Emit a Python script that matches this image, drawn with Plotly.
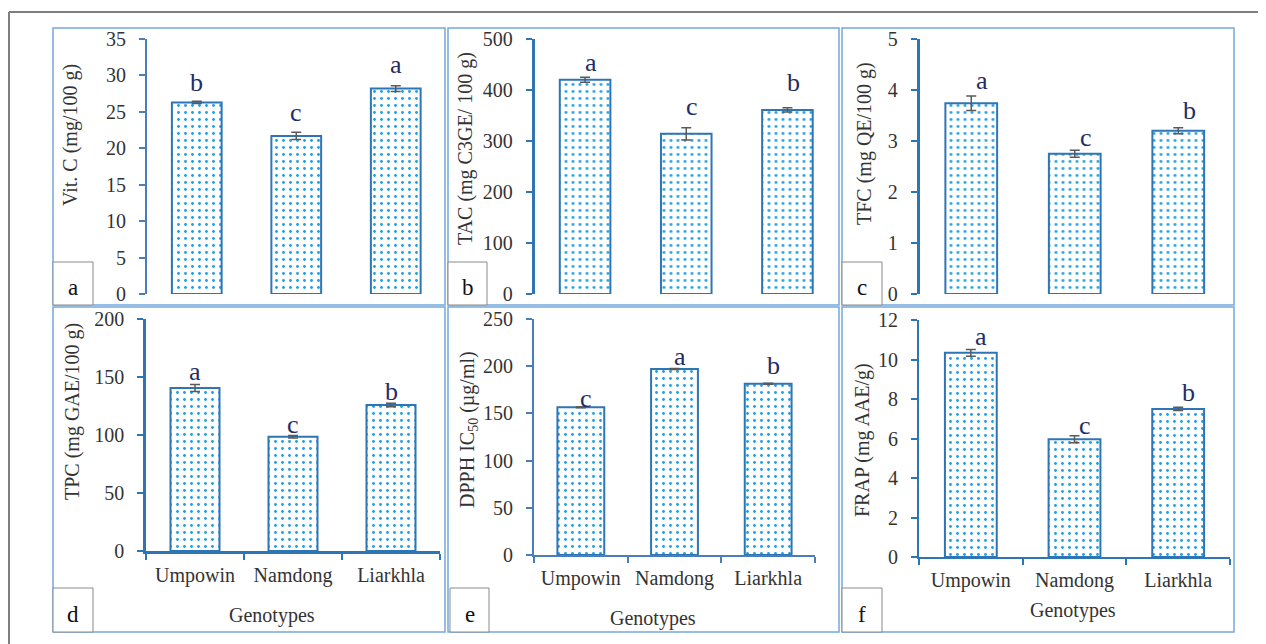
import plotly.graph_objects as go

W, H = 1266, 644
OFF = 8  # page body margin offset of the rendered figure

genotypes = ["Umpowin", "Namdong", "Liarkhla"]

vit_c = [26.3, 21.7, 28.2]
vit_c_err = [0.15, 0.5, 0.4]
vit_c_letters = ["b", "c", "a"]

tac = [420, 314, 361]
tac_err = [5, 12, 4]
tac_letters = ["a", "c", "b"]

tfc = [3.74, 2.75, 3.2]
tfc_err = [0.14, 0.07, 0.06]
tfc_letters = ["a", "c", "b"]

tpc = [140.5, 98.5, 125.9]
tpc_err = [3, 1, 1.5]
tpc_letters = ["a", "c", "b"]

dpph = [156.5, 197, 181.5]
dpph_err = [0.6, 0.5, 0.5]
dpph_letters = ["c", "a", "b"]

frap = [10.34, 5.96, 7.5]
frap_err = [0.17, 0.18, 0.08]
frap_letters = ["a", "c", "b"]

y_titles = ["Vit. C (mg/100 g)", "TAC (mg C3GE/ 100 g)", "TFC (mg QE/100 g)",
            "TPC (mg GAE/100 g)", "DPPH IC<sub>50</sub> (µg/ml)", "FRAP (mg AAE/g)"]
panel_tags = ["a", "b", "c", "d", "e", "f"]
x_title = "Genotypes"

SERIF = "Liberation Serif, Times New Roman, serif"
BLUE = "#2e75b6"
BLUE2 = "#4a7ebb"
DOT = "#1c9fe3"
TXT = "#333333"
NAVY = "#1f2d66"
FS = 20


def px(x):
    return (x - OFF) / W


def py(y):
    return 1 - (y - OFF) / H


panels = [
    dict(vals=vit_c, errs=vit_c_err, letters=vit_c_letters, yr=[0, 35], dt=5,
         box=(53, 28, 445, 305), plot=(147, 39, 445.5, 294), axc=BLUE2, axw=2, cross=True,
         bottom=False, xs=0, ysh=[20, 23, 24], ytl=(71, 135), tag=(53, 262, 93, 305)),
    dict(vals=tac, errs=tac_err, letters=tac_letters, yr=[0, 500], dt=100,
         box=(448, 28, 839, 305), plot=(534.5, 39, 838, 294), axc=BLUE, axw=2.5, cross=True,
         bottom=False, xs=6, ysh=[17, 27, 27], ytl=(465, 149), tag=(448, 262, 487, 305)),
    dict(vals=tfc, errs=tfc_err, letters=tfc_letters, yr=[0, 5], dt=1,
         box=(842, 28, 1234, 305), plot=(919.5, 39, 1230, 294), axc=BLUE, axw=2.5, cross=True,
         bottom=False, xs=11, ysh=[23, 16, 20], ytl=(865, 144), tag=(842, 262, 882, 305)),
    dict(vals=tpc, errs=tpc_err, letters=tpc_letters, yr=[0, 200], dt=50,
         box=(53, 307, 445, 632), plot=(146, 319, 440, 551), axc=BLUE, axw=2.5, cross=True,
         bottom=True, xs=0, ysh=[17, 12, 13], ytl=(72, 412), tag=(53, 588, 93, 632),
         xtl=(272, 615)),
    dict(vals=dpph, errs=dpph_err, letters=dpph_letters, yr=[0, 250], dt=50,
         box=(448, 307, 839, 632), plot=(534, 319, 815, 555), axc=BLUE2, axw=2, cross=False,
         bottom=True, xs=5, ysh=[9, 13, 18], ytl=(468, 430), tag=(450, 588, 489, 632),
         xtl=(653, 618)),
    dict(vals=frap, errs=frap_err, letters=frap_letters, yr=[0, 12], dt=2,
         box=(842, 307, 1234, 632), plot=(919, 320, 1230, 557), axc=BLUE, axw=2, cross=True,
         bottom=True, xs=10, ysh=[16, 14, 16], ytl=(862, 440), tag=(842, 588, 882, 632),
         xtl=(1073, 610)),
]

fig = go.Figure()
shapes = []
annotations = []
layout = {}

for i, p in enumerate(panels):
    k = i + 1
    xa = "x" if k == 1 else f"x{k}"
    ya = "y" if k == 1 else f"y{k}"
    x0, yt, x1, yb = p["plot"]
    fig.add_trace(go.Bar(
        x=genotypes, y=p["vals"], xaxis=xa, yaxis=ya, width=0.5,
        marker=dict(color="white", line=dict(color=BLUE, width=2),
                    pattern=dict(shape=".", fgcolor=DOT, size=7, solidity=0.13, fillmode="replace")),
        error_y=dict(type="data", array=p["errs"], visible=True, color="#5a5a5a",
                     thickness=1.5, width=5),
        showlegend=False, hoverinfo="skip",
    ))
    xkey = "xaxis" if k == 1 else f"xaxis{k}"
    ykey = "yaxis" if k == 1 else f"yaxis{k}"
    xdict = dict(domain=[px(x0), px(x1)], anchor=ya, type="category", automargin=False,
                 categoryorder="array", categoryarray=genotypes, range=[-0.5, 2.5],
                 showgrid=False, zeroline=False)
    if p["bottom"]:
        xdict.update(showline=True, linecolor=p["axc"], linewidth=p["axw"],
                     ticks="outside", tickson="boundaries", ticklen=6, tickwidth=1.5,
                     tickcolor=p["axc"], showticklabels=True, ticklabelstandoff=4,
                     tickfont=dict(family=SERIF, size=FS, color=TXT))
    else:
        xdict.update(showline=False, ticks="", showticklabels=False)
    layout[xkey] = xdict
    layout[ykey] = dict(domain=[py(yb), py(yt)], anchor=xa, range=p["yr"], dtick=p["dt"],
                        showline=True, linecolor=p["axc"], linewidth=p["axw"], automargin=False,
                        ticks="outside", ticklen=6, tickwidth=1.5, tickcolor=p["axc"],
                        showgrid=False, zeroline=False, ticklabelstandoff=9,
                        tickfont=dict(family=SERIF, size=FS, color=TXT))
    if p["cross"]:
        ko = k + 6
        layout[f"yaxis{ko}"] = dict(overlaying=ya, anchor=xa, range=p["yr"], dtick=p["dt"],
                                    showline=False, ticks="inside", ticklen=6, tickwidth=1.5,
                                    tickcolor=p["axc"], showticklabels=False, showgrid=False,
                                    zeroline=False, side="left", automargin=False)
        if p["bottom"]:
            layout[f"xaxis{ko}"] = dict(overlaying=xa, anchor=ya, range=[-0.5, 2.5],
                                        tickvals=[-0.5, 0.5, 1.5, 2.5], showline=False,
                                        ticks="inside", ticklen=6, tickwidth=1.5,
                                        tickcolor=p["axc"], showticklabels=False,
                                        showgrid=False, zeroline=False, side="bottom",
                                        automargin=False)
    # panel border
    bx0, by0, bx1, by1 = p["box"]
    shapes.append(dict(type="rect", xref="paper", yref="paper", x0=px(bx0), x1=px(bx1),
                       y0=py(by1), y1=py(by0), line=dict(color="#74a9dc", width=1.5),
                       fillcolor="rgba(0,0,0,0)", layer="below"))
    # tag box
    tx0, ty0, tx1, ty1 = p["tag"]
    shapes.append(dict(type="rect", xref="paper", yref="paper", x0=px(tx0), x1=px(tx1),
                       y0=py(ty1), y1=py(ty0), line=dict(color="#8a8a8a", width=1),
                       fillcolor="white", layer="above"))
    annotations.append(dict(xref="paper", yref="paper", x=px((tx0 + tx1) / 2),
                            y=py((ty0 + ty1) / 2 + 4), text=panel_tags[i], showarrow=False,
                            font=dict(family=SERIF, size=23, color="#111111"),
                            xanchor="center", yanchor="middle"))
    # y title
    tx, ty = p["ytl"]
    annotations.append(dict(xref="paper", yref="paper", x=px(tx), y=py(ty), text=y_titles[i],
                            textangle=-90, showarrow=False,
                            font=dict(family=SERIF, size=FS, color=TXT),
                            xanchor="center", yanchor="middle"))
    if p["bottom"]:
        gx, gy = p["xtl"]
        annotations.append(dict(xref="paper", yref="paper", x=px(gx), y=py(gy), text=x_title,
                                showarrow=False, font=dict(family=SERIF, size=FS, color=TXT),
                                xanchor="center", yanchor="middle"))
    # letters
    for j, g in enumerate(genotypes):
        annotations.append(dict(xref=xa, yref=ya, x=g, y=p["vals"][j], text=p["letters"][j],
                                showarrow=False, xshift=p["xs"], yshift=p["ysh"][j],
                                font=dict(family=SERIF, size=26, color=NAVY),
                                xanchor="center", yanchor="middle"))

# outer frame (top and left edges)
shapes.append(dict(type="line", xref="paper", yref="paper", x0=px(9), x1=1.0, y0=py(12), y1=py(12),
                   line=dict(color="#7f7f7f", width=2)))
shapes.append(dict(type="line", xref="paper", yref="paper", x0=px(9), x1=px(9), y0=0, y1=py(12),
                   line=dict(color="#7f7f7f", width=2)))

fig.update_layout(width=W, height=H, margin=dict(l=0, r=0, t=0, b=0, autoexpand=False),
                  paper_bgcolor="white", plot_bgcolor="rgba(0,0,0,0)",
                  shapes=shapes, annotations=annotations, bargap=0.5, **layout)

fig.write_html("out.html")
